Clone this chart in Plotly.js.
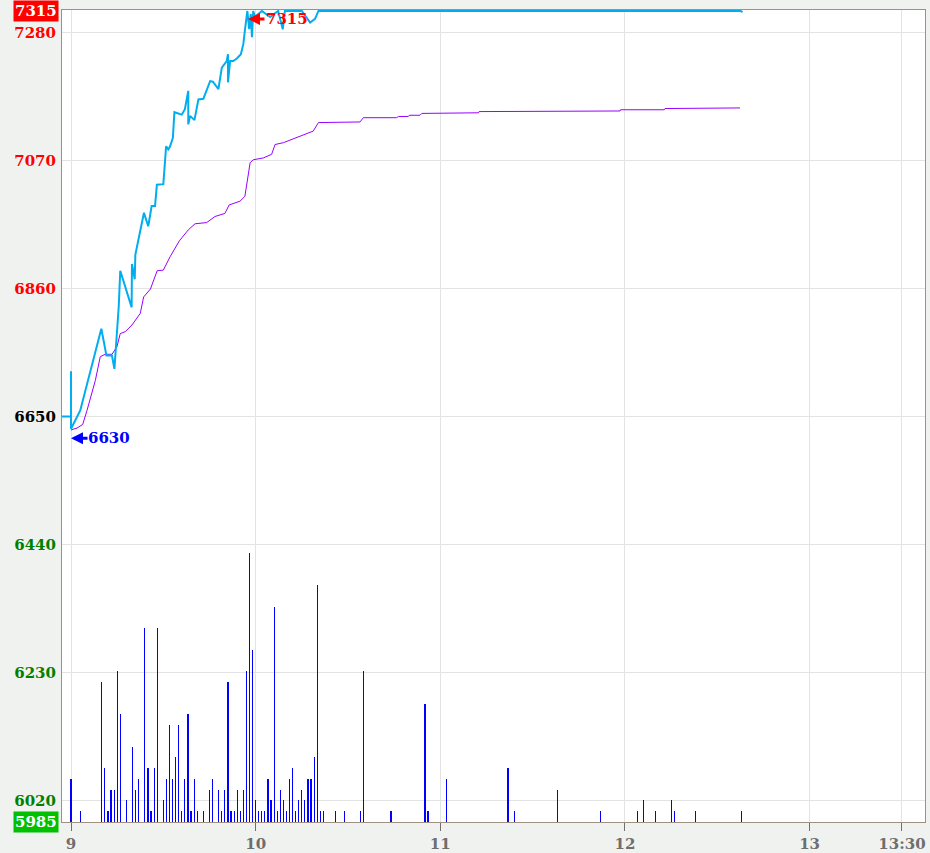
<!DOCTYPE html>
<html>
<head>
<meta charset="utf-8">
<script src="https://cdn.plot.ly/plotly-3.0.1.min.js"></script>
<style>
html,body{margin:0;padding:0;background:#F0F2F0;}
#chart{width:930px;height:853px;}
</style>
</head>
<body>
<div id="chart"></div>
<script>
// time in minutes after 9:00
const priceTime = [-3,0,0,0,3.0,9.85,11.5,13.3,14.1,15.5,16.0,19.7,19.8,20.7,20.9,21.9,23.7,25.1,26.2,27.3,27.9,30.0,30.5,30.9,31.6,32.2,33.1,33.6,36.0,37.0,38.1,38.1,38.7,40.1,41.4,43.0,45.2,46.1,47.9,49.0,50.6,51.0,51.0,51.7,52.7,53.9,55.2,56.0,56.5,56.9,57.3,57.9,58.4,58.8,59.2,59.8,62.0,64.7,67.3,68.8,69.5,73.3,75.0,77.7,79.3,80.4,217.6,218.2];
const priceVal  = [6650,6650,6724,6630,6660,6794,6750,6750,6728,6830,6889,6829,6900,6875,6915,6940,6984,6962,6995,6995,7030,7031,7071,7093,7088,7093,7107,7149,7145,7154,7184,7129,7143,7136,7170,7171,7200,7199,7187,7222,7233,7244,7198,7233,7233,7237,7244,7261,7283,7304,7315,7285,7310,7272,7315,7305,7315,7305,7315,7285,7315,7315,7315,7296,7302,7315,7315,7313];

const avgTime = [0,1.95,3.8,5.2,7.9,9.5,11.1,13.3,14.9,16.0,17.6,19.8,22.5,23.6,25.8,28.0,30.0,32.2,35.2,38.1,40.3,44.1,46.8,50.0,51.4,54.9,56.5,58.2,59.2,62.5,65.2,66.3,69.0,71.7,75.0,77.1,78.7,80.4,87.4,88.0,93.9,95.0,105.8,106.4,109.6,109.9,113.4,114.0,116.1,116.7,132.4,132.6,151.3,151.5,178.4,178.6,192.8,193.0,210.4,210.6,217.4];
const avgVal  = [6628,6631,6637,6660,6709,6748,6752,6752,6764,6786,6789,6800,6819,6846,6859,6889,6890,6912,6938,6956,6966,6968,6978,6983,6997,7003,7011,7066,7071,7074,7080,7096,7099,7104,7110,7114,7118,7132,7132,7133,7133,7140,7140,7142,7142,7144,7144,7147,7147,7148,7148,7150,7150,7151,7151,7153,7153,7155,7155,7156,7156];

const volTime = [0,3,10,11,12,13,14,15,16,18,20,21,22,24,25,26,27,28,30,31,32,33,34,35,36,37,38,39,40,41,43,45,46,48,49,50,51,52,53,54,55,56,57,58,59,60,61,62,63,64,65,66,67,68,69,70,71,72,73,74,75,76,77,78,79,80,81,82,86,89,94,95,104,115,116,122,142,144,158,172,184,186,190,195,196,203,218];
const volVal  = [4,1,13,5,1,3,3,14,10,2,7,3,4,18,5,1,5,18,2,4,9,4,6,9,1,4,10,1,4,1,1,3,4,3,1,3,13,1,1,3,1,3,14,25,16,2,1,1,1,4,2,20,1,3,2,1,4,5,1,2,3,2,4,4,6,22,1,1,1,1,1,14,1,11,1,4,5,1,3,1,1,2,1,2,1,1,1];

const xTickVals = [0,60,120,180,240,270];
const xTickText = ['9','10','11','12','13','13:30'];
const yTickVals = [7280,7070,6860,6650,6440,6230,6020];
const yTickColors = ['#FF0000','#FF0000','#FF0000','#000000','#008000','#008000','#008000'];
const prevClose = 6650, highVal = 7315, lowVal = 5985, dayLow = 6630;
const highTime = 57.5, lowTime = 0;

const serif = '"DejaVu Serif", "Liberation Serif", serif';

const traces = [
  {x: volTime, y: volVal, type:'bar', yaxis:'y2', width:0.38,
   marker:{color:'#0000FF', line:{width:0}}, hoverinfo:'skip'},
  {x: avgTime, y: avgVal, type:'scatter', mode:'lines',
   line:{color:'#9900FF', width:1}, hoverinfo:'skip'},
  {x: priceTime, y: priceVal, type:'scatter', mode:'lines',
   line:{color:'#00AEEF', width:2}, hoverinfo:'skip'}
];

const layout = {
  width:930, height:853,
  margin:{l:62, r:5, t:10, b:31},
  paper_bgcolor:'#F0F2F0', plot_bgcolor:'#FFFFFF',
  showlegend:false,
  xaxis:{range:[-2.93,277.5], tickvals:xTickVals, ticktext:xTickText,
    showgrid:true, gridcolor:'#E3E3E3', gridwidth:1, zeroline:false,
    ticks:'outside', ticklen:8, tickcolor:'#707070', tickwidth:1,
    tickfont:{family:serif, size:15, color:'#6E6E6E', weight:'bold'},
    showline:true, mirror:true, linecolor:'#A09080', linewidth:1, fixedrange:true,
    layer:'below traces'},
  yaxis:{range:[lowVal,highVal+1.6], tickvals:yTickVals,
    ticktext: yTickVals.map((v,i)=>'<span style="color:'+yTickColors[i]+'">'+v+'</span>'),
    showgrid:true, gridcolor:'#E3E3E3', gridwidth:1, zeroline:false,
    ticks:'', ticklabelstandoff:2,
    tickfont:{family:serif, size:15, color:'#000000', weight:'bold'},
    showline:true, mirror:true, linecolor:'#A09080', linewidth:1, fixedrange:true,
    layer:'below traces'},
  yaxis2:{overlaying:'y', range:[0,75.44], visible:false, showgrid:false, fixedrange:true},
  bargap:0,
  shapes:[
    {type:'line', xref:'paper', x0:0, x1:1, yref:'y', y0:prevClose, y1:prevClose,
     line:{color:'#E58AB0', width:1}, layer:'between'}
  ],
  annotations:[
    {xref:'paper', x:0, xanchor:'right', xshift:-3, yref:'y', y:highVal, yanchor:'middle',
     text:String(highVal), showarrow:false, bgcolor:'#FF0000', borderpad:1,
     font:{family:serif, size:15, color:'#FFFFFF', weight:'bold'}},
    {xref:'paper', x:0, xanchor:'right', xshift:-3, yref:'y', y:lowVal, yanchor:'middle',
     text:String(lowVal), showarrow:false, bgcolor:'#00C000', borderpad:1,
     font:{family:serif, size:15, color:'#FFFFFF', weight:'bold'}},
    // high marker: arrow + text
    {xref:'x', yref:'y', x:highTime, y:7302, text:'', showarrow:true,
     ax:18, ay:0, arrowhead:2, arrowsize:0.8, arrowwidth:3,
     arrowcolor:'#FF0000', standoff:0, startstandoff:0},
    {xref:'x', x:highTime, xshift:16, xanchor:'left', yref:'y', y:7302, yanchor:'middle',
     text:String(highVal), showarrow:false,
     font:{family:serif, size:15, color:'#FF0000', weight:'bold'}},
    // low marker: arrow + text
    {xref:'x', yref:'y', x:lowTime, y:6614.3, text:'', showarrow:true,
     ax:18, ay:0, arrowhead:2, arrowsize:0.8, arrowwidth:3,
     arrowcolor:'#0000FF', standoff:0, startstandoff:0},
    {xref:'x', x:lowTime, xshift:15, xanchor:'left', yref:'y', y:6614.3, yanchor:'middle',
     text:String(dayLow), showarrow:false,
     font:{family:serif, size:15, color:'#0000FF', weight:'bold'}}
  ]
};

Plotly.newPlot('chart', traces, layout, {displayModeBar:false, staticPlot:true});
</script>
</body>
</html>
